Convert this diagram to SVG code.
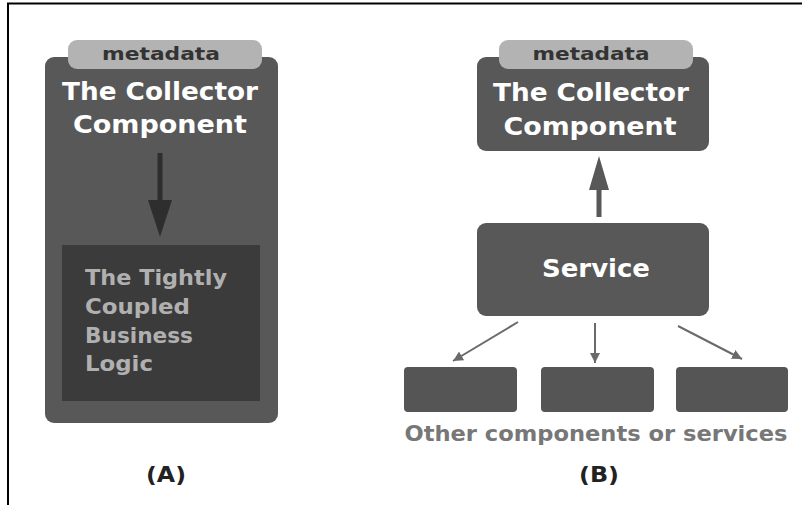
<svg xmlns="http://www.w3.org/2000/svg" width="802" height="505" viewBox="0 0 802 505">
<defs>
<style>
.t{font-family:"DejaVu Sans","Liberation Sans",sans-serif;font-weight:bold}
.box{fill:#585858}
.tab{fill:#b3b3b3}
.meta{fill:#333;font-size:17px;text-anchor:middle}
.title{fill:#fff;font-size:25px;text-anchor:middle}
.inner{fill:#b0b0b0;font-size:22px}
.small{fill:#555}
.conn{stroke:#6a6a6a;stroke-width:2;fill:none}
</style>
<marker id="ah2" viewBox="0 0 10 10" refX="10" refY="5" markerWidth="10" markerHeight="10" orient="auto" markerUnits="userSpaceOnUse">
<path d="M0,0 L10,5 L0,10 z" fill="#6a6a6a"/>
</marker>
</defs>
<rect width="802" height="505" fill="#fff"/>
<path d="M8,505 V3.5 H802" stroke="#000" stroke-width="2" fill="none"/>

<g id="panelA">
<rect class="box" x="45" y="57" width="233" height="366" rx="9"/>
<rect class="tab" x="68" y="40" width="194" height="29" rx="9"/>
<text class="t meta" x="161" y="60" textLength="118" lengthAdjust="spacingAndGlyphs">metadata</text>
<text class="t title" x="160" y="100" textLength="196" lengthAdjust="spacingAndGlyphs">The Collector</text>
<text class="t title" x="160" y="133" textLength="174" lengthAdjust="spacingAndGlyphs">Component</text>
<g id="logicA">
<rect x="62" y="245" width="198" height="156" fill="#3b3b3b"/>
<text class="t inner" x="85" y="285" textLength="142" lengthAdjust="spacingAndGlyphs">The Tightly</text>
<text class="t inner" x="85" y="314" textLength="105" lengthAdjust="spacingAndGlyphs">Coupled</text>
<text class="t inner" x="85" y="343" textLength="108" lengthAdjust="spacingAndGlyphs">Business</text>
<text class="t inner" x="85" y="371" textLength="68" lengthAdjust="spacingAndGlyphs">Logic</text>
</g>
</g>

<g id="collectorB">
<rect class="box" x="477" y="57" width="232" height="94" rx="9"/>
<rect class="tab" x="499" y="40" width="194" height="29" rx="9"/>
<text class="t meta" x="591" y="60" textLength="117" lengthAdjust="spacingAndGlyphs">metadata</text>
<text class="t title" x="591" y="101" textLength="196" lengthAdjust="spacingAndGlyphs">The Collector</text>
<text class="t title" x="590" y="135" textLength="173" lengthAdjust="spacingAndGlyphs">Component</text>
</g>
<g id="service">
<rect class="box" x="477" y="223" width="232" height="93" rx="9"/>
<text class="t title" x="596" y="277" textLength="108" lengthAdjust="spacingAndGlyphs">Service</text>
</g>
<g id="other1"><rect class="small" x="404" y="367" width="113" height="45" rx="4"/></g>
<g id="other2"><rect class="small" x="541" y="367" width="113" height="45" rx="4"/></g>
<g id="other3"><rect class="small" x="676" y="367" width="112" height="45" rx="4"/></g>

<g id="connectors">
<path d="M157.5,153 V200 H148 L160,237 L172,200 H162.5 V153 Z" fill="#2e2e2e"/>
<path d="M596.5,217 V190 H589 L599,156 L609,190 H601.5 V217 Z" fill="#585858"/>
<line class="conn" x1="518" y1="322" x2="453" y2="361" marker-end="url(#ah2)"/>
<line class="conn" x1="595" y1="323" x2="595" y2="363" marker-end="url(#ah2)"/>
<line class="conn" x1="678" y1="326" x2="742" y2="359" marker-end="url(#ah2)"/>
</g>

<text class="t" x="596" y="441" fill="#777" font-size="21" text-anchor="middle" textLength="383" lengthAdjust="spacingAndGlyphs">Other components or services</text>
<text class="t" x="166" y="482" fill="#222" font-size="21" text-anchor="middle" textLength="40" lengthAdjust="spacingAndGlyphs">(A)</text>
<text class="t" x="599" y="482" fill="#222" font-size="21" text-anchor="middle" textLength="40" lengthAdjust="spacingAndGlyphs">(B)</text>
</svg>
